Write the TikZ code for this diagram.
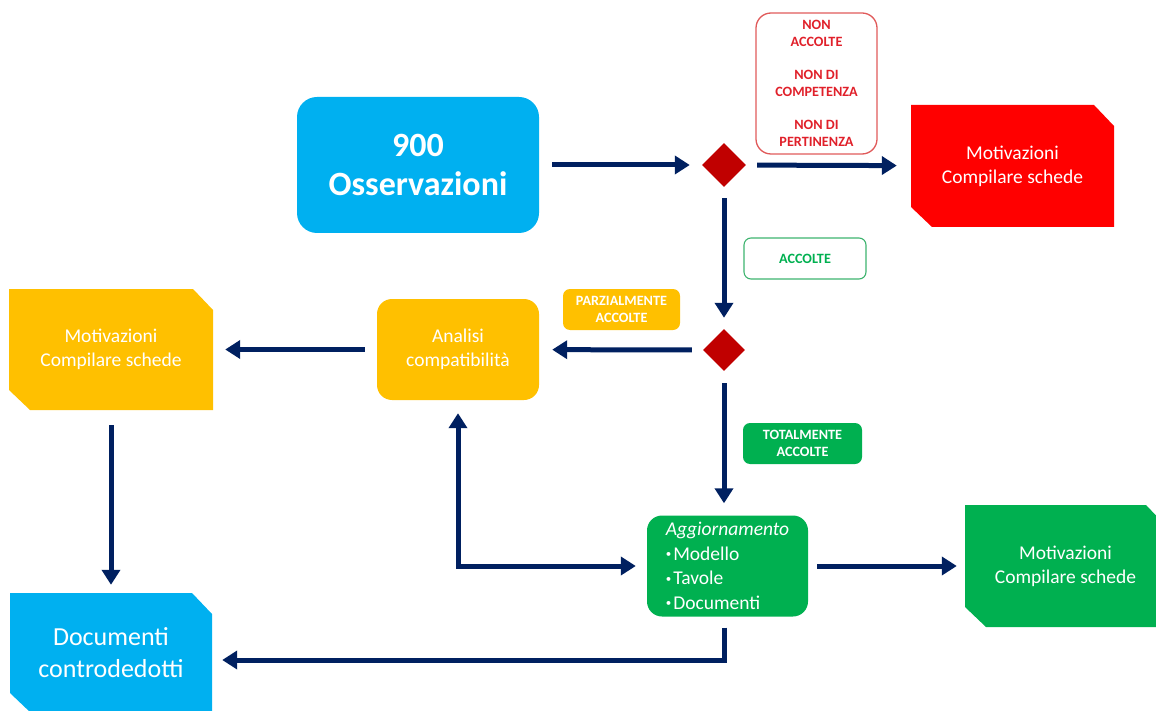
\documentclass[tikz,border=0pt]{standalone}
\usepackage{fontspec}
\setmainfont{Carlito}
\usetikzlibrary{shapes.geometric,arrows.meta}
\definecolor{cblue}{HTML}{00B0F0}
\definecolor{cred}{HTML}{FF0000}
\definecolor{cdred}{HTML}{C00000}
\definecolor{cyel}{HTML}{FFC000}
\definecolor{cgreen}{HTML}{00B050}
\definecolor{navy}{HTML}{002060}
\definecolor{redtxt}{HTML}{E0202A}
\definecolor{redline}{HTML}{E05A5A}
\definecolor{greenline}{HTML}{3DB36E}
\newcommand{\mybul}{\raisebox{2.5pt}{\fontsize{11}{11}\selectfont\textbullet}\hspace{2pt}}
\begin{document}
\begin{tikzpicture}[x=1pt,y=-1pt,
  arr/.style={draw=navy, line width=5pt, -{Triangle[length=15pt,width=18pt]}},
  dblarr/.style={draw=navy, line width=5pt, {Triangle[length=15pt,width=18pt]}-{Triangle[length=15pt,width=18pt]}},
  rbox/.style={rectangle, rounded corners=#1, inner sep=0pt, align=center},
  snipbox/.style={rectangle, inner sep=0pt, align=center, text=white,
    path picture={\fill[#1] (path picture bounding box.north west)
      -- ([xshift=-20pt]path picture bounding box.north east)
      -- ([yshift=-21pt]path picture bounding box.north east)
      -- (path picture bounding box.south east)
      -- ([xshift=21pt]path picture bounding box.south west)
      -- ([yshift=20pt]path picture bounding box.south west) -- cycle;}},
  dec/.style={diamond, shape aspect=1, fill=cdred, inner sep=0pt},
  smalltxt/.style={font=\fontsize{14.2}{16.7}\selectfont\bfseries},
  midtxt/.style={font=\fontsize{19.5}{24}\selectfont}
]
\useasboundingbox (0,0) rectangle (1156,711);

% main nodes
\node[rbox=20pt, fill=cblue, text=white, minimum width=242pt, minimum height=136pt,
  font=\fontsize{34}{39}\selectfont\bfseries] (obs) at (418,165) {900\\Osservazioni};
\node[dec, minimum width=44pt, minimum height=44pt] (d1) at (724,165) {};
\node[rbox=15pt, draw=redline, line width=1.3pt, text=redtxt, minimum width=121pt,
  minimum height=141pt, smalltxt] (non) at (816.5,83.5)
  {NON\\ACCOLTE\\[16.7pt]NON DI\\COMPETENZA\\[16.7pt]NON DI\\PERTINENZA};
\node[snipbox=cred, minimum width=203pt, minimum height=122pt, midtxt] (redmot) at (1012.5,166)
  {Motivazioni\\Compilare schede};

\node[rbox=7pt, draw=greenline, line width=1.1pt, text=cgreen, minimum width=122pt,
  minimum height=41pt, smalltxt] (acc) at (805,258.5) {ACCOLTE};
\node[dec, minimum width=42pt, minimum height=42pt] (d2) at (724,350) {};
\node[rbox=7pt, fill=cyel, text=white, minimum width=117pt, minimum height=41pt, smalltxt]
  (parz) at (621.5,309.5) {PARZIALMENTE\\ACCOLTE};
\node[rbox=15pt, fill=cyel, text=white, minimum width=162pt, minimum height=101pt, midtxt]
  (ana) at (458,349.5) {Analisi\\compatibilità};
\node[snipbox=cyel, minimum width=204pt, minimum height=121pt, midtxt] (yelmot) at (111,349.5)
  {Motivazioni\\Compilare schede};

\node[rbox=7pt, fill=cgreen, text=white, minimum width=119pt, minimum height=41pt, smalltxt]
  (tot) at (802.5,443.5) {TOTALMENTE\\ACCOLTE};
\node[rbox=15pt, fill=cgreen, text=white, minimum width=161pt, minimum height=101pt,
  align=left, font=\fontsize{19.5}{24.5}\selectfont] (agg) at (727.5,566)
  {\textit{Aggiornamento}\\
   \mybul Modello\\
   \mybul Tavole\\
   \mybul Documenti};
\node[snipbox=cgreen, minimum width=201pt, minimum height=122pt, midtxt] (greenmot) at (1065.5,566)
  {Motivazioni\\Compilare schede};
\node[snipbox=cblue, minimum width=202pt, minimum height=120pt,
  font=\fontsize{26}{32}\selectfont] (doc) at (111,653) {Documenti\\controdedotti};

% connectors
\draw[arr, shorten <=13pt, shorten >=12pt] (obs) -- (d1);
\draw[arr, shorten <=11pt, shorten >=14pt] (d1) -- (redmot);
\draw[arr, shorten <=11pt, shorten >=11pt] (d1) -- (d2);
\draw[arr, shorten <=11pt, shorten >=13pt] (d2) -- (ana);
\draw[arr, shorten <=12pt, shorten >=12pt] (ana) -- (yelmot);
\draw[arr, shorten <=12pt, shorten >=12pt] (d2) -- (agg.north -| d2);
\draw[arr, shorten <=9pt, shorten >=8pt] (agg.east) -- (agg.east -| greenmot.west);
\draw[arr, shorten <=15pt, shorten >=8pt] (yelmot) -- (doc);
\draw[arr, shorten <=11pt, shorten >=10pt] (agg.south -| d2) |- ([yshift=-7pt]doc.east);
\draw[dblarr, shorten <=13pt, shorten >=11pt] (ana.south) |- (agg.west);
\end{tikzpicture}
\end{document}
